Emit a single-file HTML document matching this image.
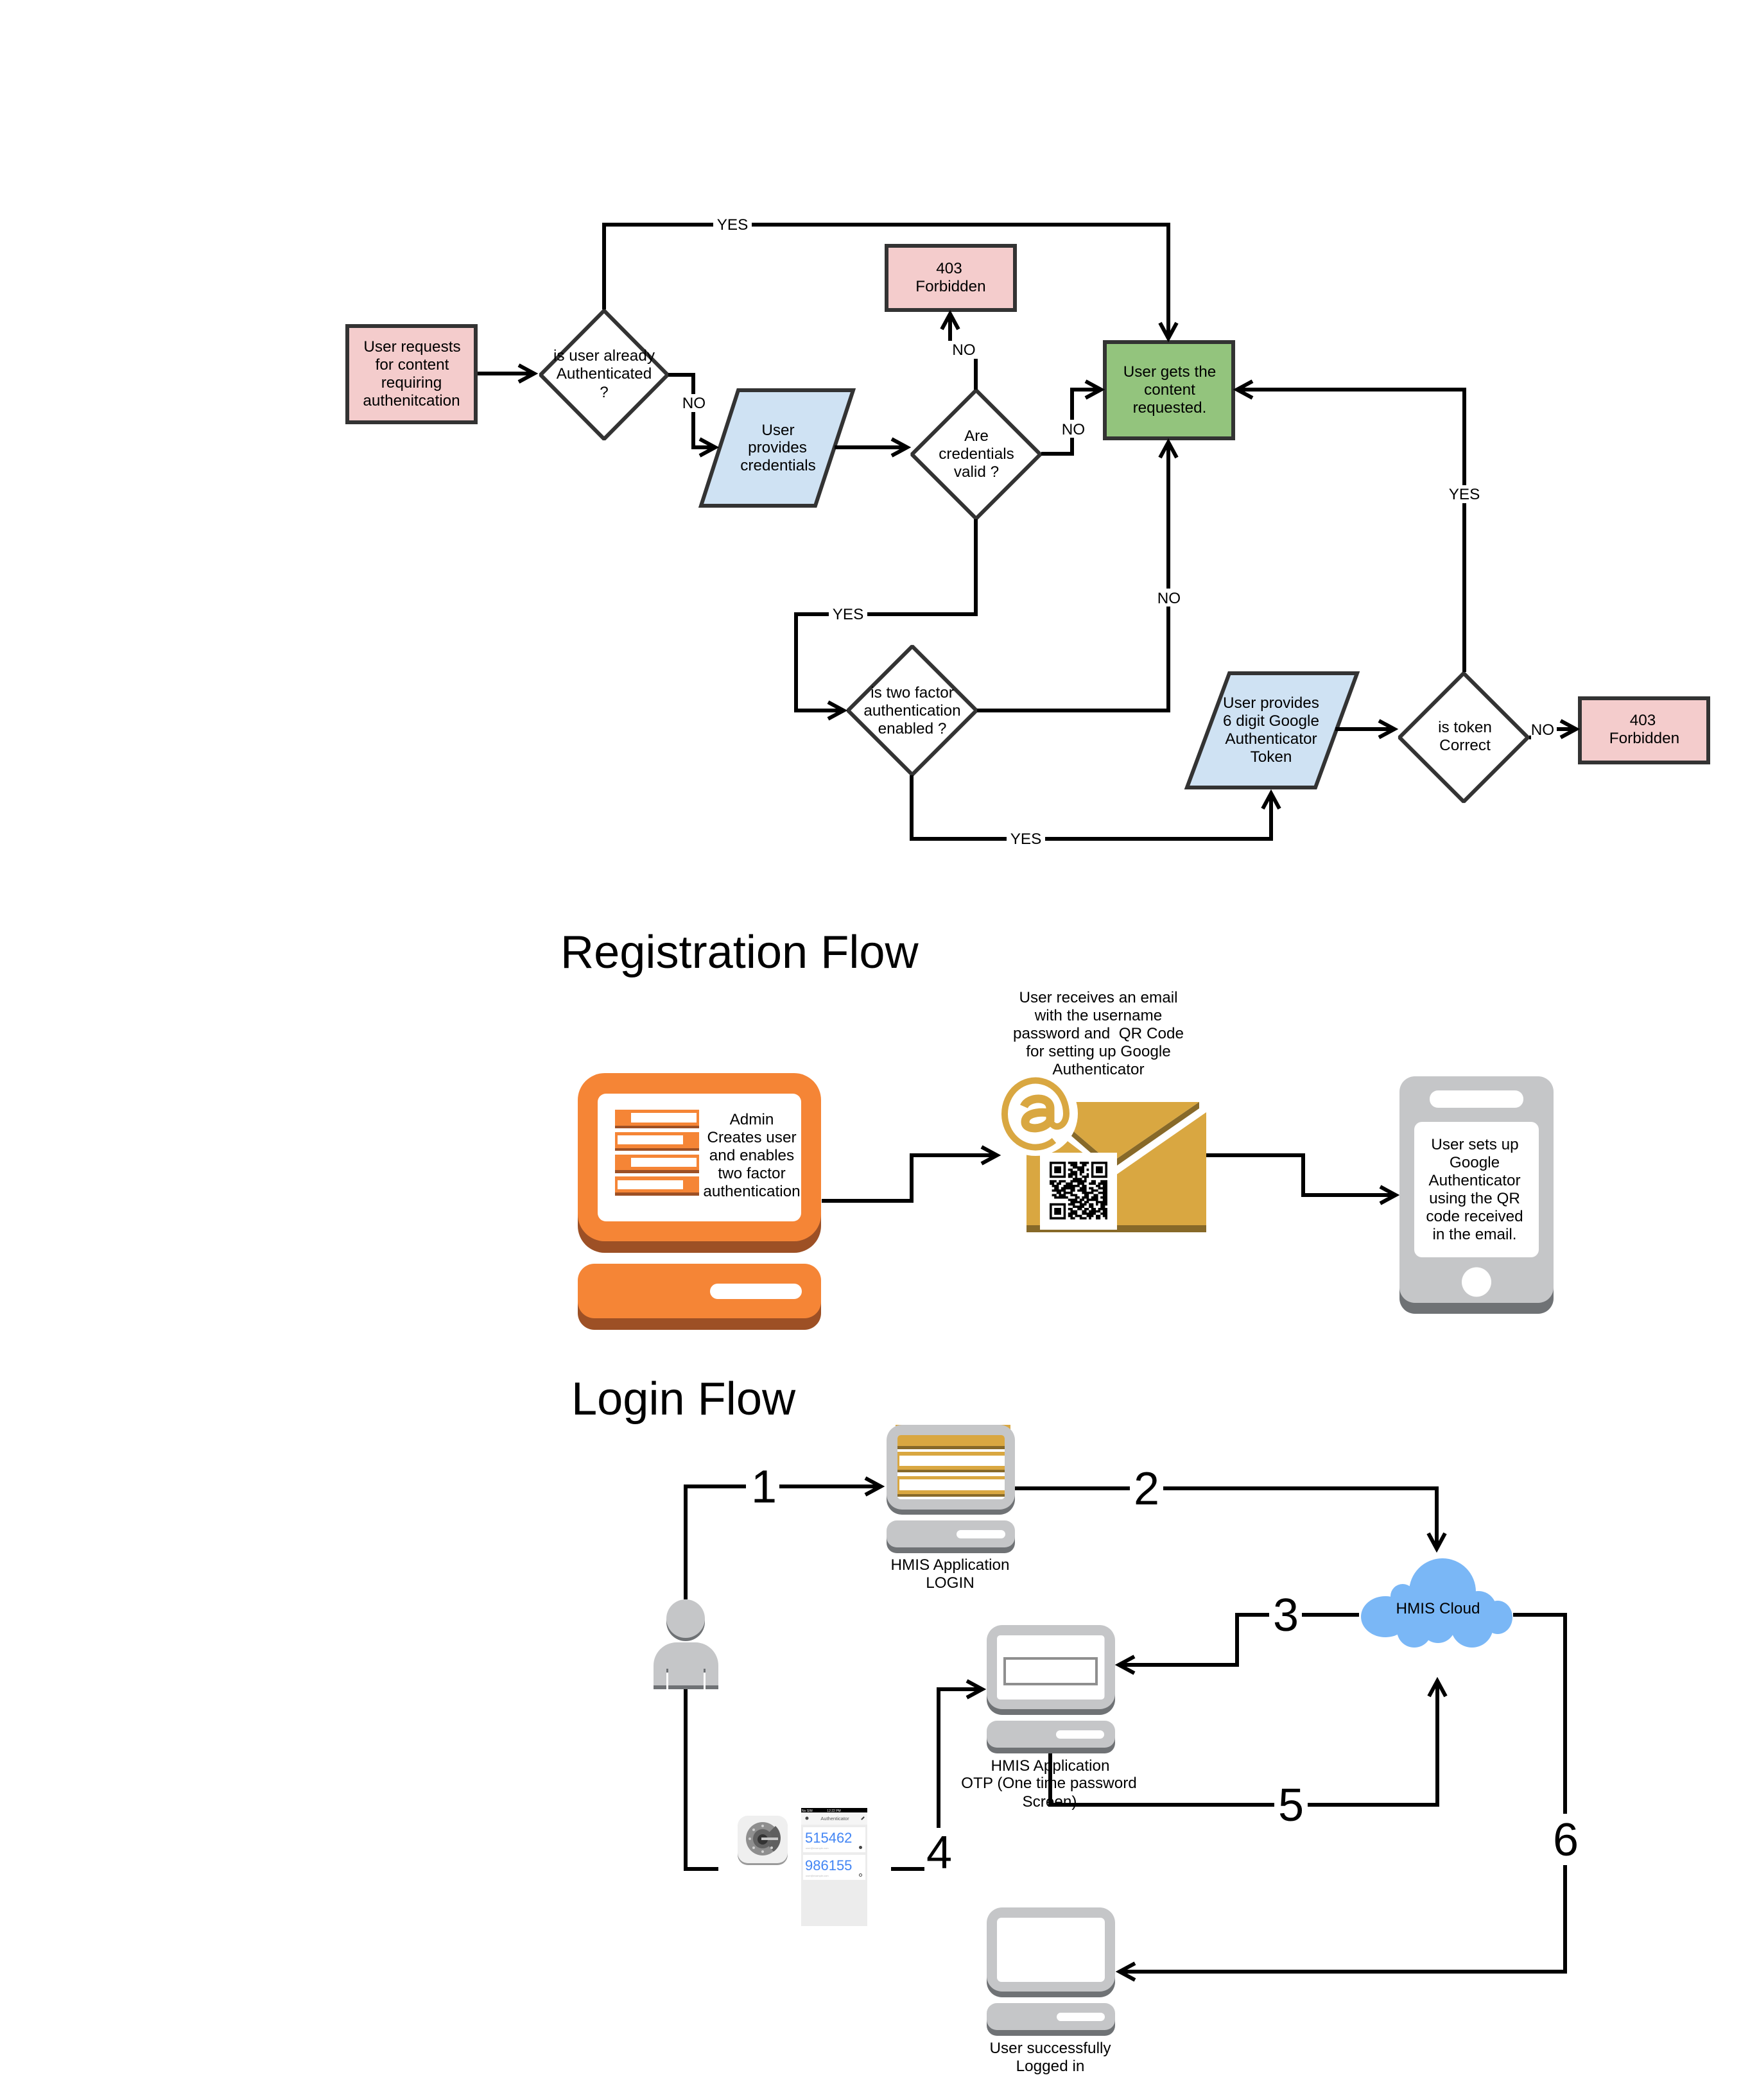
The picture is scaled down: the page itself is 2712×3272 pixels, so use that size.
<!DOCTYPE html>
<html>
<head>
<meta charset="utf-8">
<title>Authentication Flow</title>
<style>
html,body{margin:0;padding:0;background:#fff}
svg{display:block}
text{font-family:"Liberation Sans",Arial,sans-serif;fill:#000}
.t{font-size:24.3px;text-anchor:middle}
.h{font-size:72.2px}
.n{font-size:72px;text-anchor:middle}
.l{fill:none;stroke:#000;stroke-width:6;stroke-linejoin:miter}
.s{stroke:#333;stroke-width:6}
.b{stroke:#333;stroke-width:6;stroke-linejoin:bevel}
.g{fill:#c5c6c8}.d{fill:#6f7275}.w{fill:#fff}
</style>
</head>
<body>
<svg xmlns="http://www.w3.org/2000/svg" width="2712" height="3272" viewBox="0 0 2712 3272">
<defs>
<path id="a" d="M-30-13L-6 0L-30 13" fill="none" stroke="#000" stroke-width="6"/>
</defs>
<rect width="2712" height="3272" fill="#fff"/>

<!-- Top flowchart shapes -->
<rect class="s" x="541" y="508" width="200" height="150" fill="#f4cccc"/>
<polygon class="b" points="941,484 1040,584 941,684 842,584" fill="#fff"/>
<polygon class="s" points="1150,608 1329,608 1270,788 1092,788" fill="#cfe2f3"/>
<rect class="s" x="1381" y="383" width="200" height="100" fill="#f4cccc"/>
<polygon class="b" points="1520.500,608 1620.500,708 1520.500,808 1420.500,708" fill="#fff"/>
<rect class="s" x="1721" y="533" width="200" height="150" fill="#93c47d"/>
<polygon class="b" points="1421,1007 1521,1107 1421,1207 1321,1107" fill="#fff"/>
<polygon class="s" points="1915,1049 2114,1049 2049,1227 1849,1227" fill="#cfe2f3"/>
<polygon class="b" points="2280,1049 2380,1149 2280,1249 2180,1149" fill="#fff"/>
<rect class="s" x="2461" y="1088" width="200" height="100" fill="#f4cccc"/>

<!-- Top flowchart connectors -->
<path class="l" d="M744 582H832"/><use href="#a" transform="translate(838 582)"/>
<path class="l" d="M941 482V350H1820V527"/><use href="#a" transform="translate(1820 533) rotate(90)"/>
<path class="l" d="M1041 584H1080V697H1114"/><use href="#a" transform="translate(1120 697)"/>
<path class="l" d="M1300 697H1413"/><use href="#a" transform="translate(1419 697)"/>
<path class="l" d="M1520 607V544H1480V489"/><use href="#a" transform="translate(1480 483) rotate(-90)"/>
<path class="l" d="M1622 707H1670V607H1715"/><use href="#a" transform="translate(1721 607)"/>
<path class="l" d="M1520 809V957H1240V1107H1314"/><use href="#a" transform="translate(1320 1107)"/>
<path class="l" d="M1522 1107H1820V689"/><use href="#a" transform="translate(1820 683) rotate(-90)"/>
<path class="l" d="M1420 1208V1307H1980V1236"/><use href="#a" transform="translate(1980 1230) rotate(-90)"/>
<path class="l" d="M2080 1136H2172"/><use href="#a" transform="translate(2178 1136)"/>
<path class="l" d="M2281 1047V607H1927"/><use href="#a" transform="translate(1921 607) rotate(180)"/>
<path class="l" d="M2382 1149H2403V1136H2455"/><use href="#a" transform="translate(2461 1136)"/>

<!-- Connector label backgrounds -->
<g class="w">
<rect x="1111" y="336" width="60" height="28"/>
<rect x="1064" y="614" width="35" height="28"/>
<rect x="1477" y="531" width="46" height="28"/>
<rect x="1654" y="654" width="36" height="28"/>
<rect x="1291" y="943" width="60" height="28"/>
<rect x="1803" y="917" width="36" height="28"/>
<rect x="1568" y="1293" width="60" height="28"/>
<rect x="2251" y="756" width="60" height="28"/>
<rect x="2385" y="1122" width="40" height="34"/>
</g>

<!-- Top flowchart text -->
<g class="t">
<text class="t" x="642" y="548">User requests</text>
<text class="t" x="642" y="576">for content</text>
<text class="t" x="641" y="604">requiring</text>
<text class="t" x="641" y="632">authenitcation</text>
<text class="t" x="941" y="562">is user already</text>
<text class="t" x="941" y="590">Authenticated</text>
<text class="t" x="941" y="619">?</text>
<text class="t" x="1212" y="678">User</text>
<text class="t" x="1211" y="705">provides</text>
<text class="t" x="1212" y="733">credentials</text>
<text class="t" x="1478.500" y="426">403</text>
<text class="t" x="1481" y="454">Forbidden</text>
<text class="t" x="1521" y="687">Are</text>
<text class="t" x="1521" y="715">credentials</text>
<text class="t" x="1521" y="743">valid ?</text>
<text class="t" x="1822" y="587">User gets the</text>
<text class="t" x="1822" y="615">content</text>
<text class="t" x="1822" y="643">requested.</text>
<text class="t" x="1421" y="1087">is two factor</text>
<text class="t" x="1421" y="1115">authentication</text>
<text class="t" x="1421" y="1143">enabled ?</text>
<text class="t" x="1980" y="1103">User provides</text>
<text class="t" x="1980" y="1131">6 digit Google</text>
<text class="t" x="1980" y="1159">Authenticator</text>
<text class="t" x="1980" y="1187">Token</text>
<text class="t" x="2282" y="1141">is token</text>
<text class="t" x="2282" y="1169">Correct</text>
<text class="t" x="2559" y="1130">403</text>
<text class="t" x="2561.500" y="1158">Forbidden</text>
<text class="t" x="1141" y="358">YES</text>
<text class="t" x="1081" y="636">NO</text>
<text class="t" x="1501.500" y="553">NO</text>
<text class="t" x="1672" y="677">NO</text>
<text class="t" x="1321" y="965">YES</text>
<text class="t" x="1821" y="940">NO</text>
<text class="t" x="1598" y="1315">YES</text>
<text class="t" x="2281" y="778">YES</text>
<text class="t" x="2403" y="1145">NO</text>
</g>

<!-- Titles -->
<text class="h" x="873" y="1508">Registration Flow</text>
<text class="h" x="890" y="2204">Login Flow</text>

<!-- Registration flow connectors -->
<path class="l" d="M1280 1871H1420V1800H1553"/><use href="#a" transform="translate(1559 1800)"/>
<path class="l" d="M1879 1800H2030V1862H2174"/><use href="#a" transform="translate(2180 1862)"/>

<!-- Orange computer -->
<rect x="900" y="1692" width="379" height="260" rx="42" fill="#9d5025"/>
<rect x="900" y="1672" width="379" height="262" rx="42" fill="#f58536"/>
<rect x="931" y="1704" width="317" height="199" rx="13" fill="#fff"/>
<rect x="900" y="1985" width="379" height="87" rx="26" fill="#9d5025"/>
<rect x="900" y="1969" width="379" height="85" rx="26" fill="#f58536"/>
<rect x="1106" y="2000" width="143" height="24" rx="12" fill="#fff"/>
<g>
<rect x="958" y="1729" width="131" height="29" fill="#f58536"/><rect x="958" y="1754" width="131" height="4" fill="#9d5025"/><rect x="983" y="1734" width="102" height="15" fill="#fff"/>
<rect x="958" y="1764" width="131" height="29" fill="#f58536"/><rect x="958" y="1789" width="131" height="4" fill="#9d5025"/><rect x="962" y="1769" width="102" height="14" fill="#fff"/>
<rect x="958" y="1799" width="131" height="29" fill="#f58536"/><rect x="958" y="1823" width="131" height="5" fill="#9d5025"/><rect x="983" y="1804" width="102" height="14" fill="#fff"/>
<rect x="958" y="1833" width="131" height="30" fill="#f58536"/><rect x="958" y="1858" width="131" height="5" fill="#9d5025"/><rect x="962" y="1839" width="102" height="14" fill="#fff"/>
</g>
<text class="t" x="1171" y="1752">Admin</text>
<text class="t" x="1171" y="1780">Creates user</text>
<text class="t" x="1171" y="1808">and enables</text>
<text class="t" x="1171" y="1836">two factor</text>
<text class="t" x="1171" y="1864">authentication</text>

<!-- Email -->
<text class="t" x="1711" y="1562">User receives an email</text>
<text class="t" x="1711" y="1590">with the username</text>
<text class="t" x="1711" y="1618">password and&#160; QR Code</text>
<text class="t" x="1711" y="1646">for setting up Google</text>
<text class="t" x="1711" y="1674">Authenticator</text>
<polygon points="1669,1760 1669,1770 1730,1823 1868,1727 1868,1717 1730,1812" fill="#876929"/>
<polygon points="1669,1717 1868,1717 1730,1812 1669,1760" fill="#d9a741"/>
<polygon points="1599,1909 1599,1790 1663,1778 1735,1833 1879,1733 1879,1909" fill="#d9a741"/>
<rect x="1599" y="1909" width="280" height="11" fill="#876929"/>
<circle cx="1613" cy="1735" r="66" fill="#fff"/>
<g fill="none" stroke="#d9a741">
<path stroke-width="10" d="M1642 1777A48 52 0 1 1 1661 1735C1661 1757 1640 1762 1636 1745"/>
<path stroke-width="13" d="M1636 1747V1727C1636 1707 1602 1708 1595 1724"/>
<path stroke-width="13" d="M1636 1734C1612 1731 1597 1737 1597 1748C1597 1763 1630 1760 1636 1745"/>
</g>
<rect x="1620" y="1796" width="120" height="120" fill="#fff"/>
<g transform="translate(1635 1810) scale(3.6)">
<path fill-rule="evenodd" d="M0 0h7v7h-7zM1 1v5h5v-5zM2 2h3v3h-3zM18 0h7v7h-7zM19 1v5h5v-5zM20 2h3v3h-3zM0 18h7v7h-7zM1 19v5h5v-5zM2 20h3v3h-3z"/>
<path fill="none" stroke="#000" stroke-width="1" d="M8 .5h4M13 .5h4M9 1.500h3M14 1.500h2M10 2.500h5M8 3.500h2M12 3.500h3M16 3.500h1M9 4.500h3M13 4.500h2M8 5.500h4M13 5.500h1M16 5.500h1M8 6.500h2M11 6.500h1M14 6.500h3M10 7.500h4M15 7.500h1M0 8.500h3M4 8.500h3M9 8.500h7M18 8.500h2M22 8.500h3M0 9.500h2M3 9.500h2M7 9.500h3M12 9.500h3M17 9.500h3M21 9.500h4M1 10.500h3M6 10.500h4M10 10.500h3M14 10.500h2M20 10.500h2M23 10.500h2M2 11.500h2M5 11.500h6M13 11.500h3M17 11.500h2M21 11.500h4M1 12.500h6M9 12.500h2M12 12.500h4M18 12.500h3M23 12.500h2M3 13.500h2M6 13.500h4M14 13.500h5M21 13.500h4M1 14.500h2M4 14.500h3M9 14.500h3M15 14.500h2M19 14.500h2M23 14.500h2M2 15.500h6M11 15.500h2M14 15.500h3M18 15.500h3M22 15.500h3M8 16.500h4M13 16.500h2M16 16.500h5M23 16.500h2M9 17.500h5M15 17.500h2M20 17.500h5M8 18.500h3M13 18.500h3M17 18.500h2M20 18.500h1M22 18.500h3M10 19.500h5M17 19.500h2M22 19.500h2M8 20.500h2M12 20.500h2M15 20.500h2M18 20.500h2M21 20.500h4M9 21.500h3M14 21.500h2M17 21.500h5M23 21.500h2M8 22.500h4M14 22.500h6M22 22.500h3M8 23.500h2M11 23.500h3M16 23.500h3M20 23.500h2M23 23.500h2M9 24.500h2M13 24.500h3M17 24.500h1M20 24.500h2M24 24.500h1"/>
</g>

<!-- Phone -->
<rect x="2180" y="1700" width="240" height="347" rx="24" class="d"/>
<rect x="2180" y="1677" width="240" height="353" rx="24" class="g"/>
<rect x="2227" y="1699" width="146" height="27" rx="13" fill="#fff"/>
<rect x="2203" y="1748" width="194" height="211" rx="12" fill="#fff"/>
<circle cx="2300" cy="1997.500" r="23" fill="#fff"/>
<text class="t" x="2297.500" y="1791">User sets up</text>
<text class="t" x="2297" y="1819">Google</text>
<text class="t" x="2297" y="1847">Authenticator</text>
<text class="t" x="2297" y="1875">using the QR</text>
<text class="t" x="2297" y="1903">code received</text>
<text class="t" x="2297" y="1931">in the email.</text>

<!-- Login: monitor 1 -->
<rect x="1395" y="2220" width="179" height="20" fill="#d9a741"/>
<rect x="1381" y="2240" width="200" height="120" rx="24" class="d"/>
<rect x="1381" y="2220" width="200" height="132" rx="24" class="g"/>
<rect x="1398" y="2236" width="167" height="100" rx="5" fill="#fff"/>
<g>
<path d="M1398 2253v-12a5 5 0 0 1 5-5h157a5 5 0 0 1 5 5v12z" fill="#d9a741"/>
<rect x="1398" y="2253" width="167" height="5" fill="#876929"/>
<rect x="1398" y="2262" width="167" height="6" fill="#d9a741"/>
<rect x="1398" y="2268" width="3" height="16" fill="#d9a741"/>
<rect x="1398" y="2284" width="167" height="6" fill="#d9a741"/>
<rect x="1398" y="2290" width="167" height="4" fill="#876929"/>
<rect x="1398" y="2300" width="167" height="5" fill="#d9a741"/>
<rect x="1398" y="2305" width="3" height="17" fill="#d9a741"/>
<rect x="1398" y="2322" width="167" height="6" fill="#d9a741"/>
<rect x="1398" y="2328" width="167" height="4" fill="#876929"/>
</g>
<rect x="1381" y="2380" width="200" height="40" rx="16" class="d"/>
<rect x="1381" y="2369" width="200" height="42" rx="16" class="g"/>
<rect x="1490" y="2384" width="76" height="13" rx="6.500" fill="#fff"/>
<text class="t" x="1480" y="2446">HMIS Application</text>
<text class="t" x="1480" y="2474">LOGIN</text>

<!-- Person -->
<ellipse cx="1068" cy="2527" rx="30" ry="30" class="d"/>
<ellipse cx="1068" cy="2522" rx="30" ry="30" class="g"/>
<path d="M1018 2632V2595a36 36 0 0 1 36-36h29a36 36 0 0 1 36 36V2632z" class="g"/>
<rect x="1018" y="2626" width="101" height="6" class="d"/>
<rect x="1038" y="2600" width="3" height="6" class="d"/><rect x="1096" y="2600" width="3" height="6" class="d"/>
<rect x="1038" y="2606" width="3" height="26" fill="#fff"/><rect x="1096" y="2606" width="3" height="26" fill="#fff"/>

<!-- Monitor 2 -->
<rect x="1537" y="2552" width="200" height="120" rx="24" class="d"/>
<rect x="1537" y="2532" width="200" height="131" rx="24" class="g"/>
<rect x="1553" y="2548" width="167.500" height="100" rx="5" fill="#fff"/>
<rect x="1565" y="2584" width="143" height="40" fill="#fff" stroke="#8f8f8f" stroke-width="4"/>
<rect x="1537" y="2692" width="200" height="40" rx="16" class="d"/>
<rect x="1537" y="2681" width="200" height="42" rx="16" class="g"/>
<rect x="1645" y="2696" width="75" height="13" rx="6.500" fill="#fff"/>
<text class="t" x="1636" y="2759">HMIS Application</text>
<text class="t" x="1634" y="2786">OTP (One time password</text>
<text class="t" x="1635" y="2815">Screen)</text>

<!-- Monitor 3 -->
<rect x="1537" y="2992" width="200" height="120" rx="24" class="d"/>
<rect x="1537" y="2972" width="200" height="131" rx="24" class="g"/>
<rect x="1553" y="2988" width="168" height="100" rx="7" fill="#fff"/>
<rect x="1537" y="3132" width="200" height="40" rx="16" class="d"/>
<rect x="1537" y="3121" width="200" height="42" rx="16" class="g"/>
<rect x="1646" y="3136" width="75" height="13" rx="6.500" fill="#fff"/>
<text class="t" x="1636" y="3199">User successfully</text>
<text class="t" x="1636" y="3227">Logged in</text>

<!-- Login connectors -->
<path class="l" d="M1068 2492V2316H1372"/><use href="#a" transform="translate(1378 2316)"/>
<path class="l" d="M1581 2319H2238V2413"/><use href="#a" transform="translate(2238 2419) rotate(90)"/>
<path class="l" d="M2117 2516H1927V2594H1743"/><use href="#a" transform="translate(1737 2594) rotate(180)"/>
<path class="l" d="M1068 2632V2912H1119"/>
<path class="l" d="M1388 2912H1462V2632H1530"/><use href="#a" transform="translate(1536 2632)"/>
<path class="l" d="M1636 2732V2812H2239V2619"/><use href="#a" transform="translate(2239 2613) rotate(-90)"/>
<path class="l" d="M2357 2516H2438V3072H1744"/><use href="#a" transform="translate(1738 3072) rotate(180)"/>

<!-- Cloud -->
<g fill="#7ab7f6">
<circle cx="2247" cy="2480" r="52"/>
<circle cx="2185" cy="2487" r="19"/>
<rect x="2185" y="2480" width="60" height="40"/>
<ellipse cx="2158" cy="2519" rx="38" ry="32"/>
<circle cx="2203" cy="2540" r="27"/>
<circle cx="2240" cy="2533" r="27"/>
<circle cx="2293" cy="2534" r="33"/>
<circle cx="2303" cy="2507" r="28"/>
<ellipse cx="2333" cy="2520" rx="23" ry="26"/>
</g>
<text class="t" x="2240" y="2514">HMIS Cloud</text>

<!-- Number labels -->
<g class="w">
<rect x="1162" y="2280" width="52" height="70"/>
<rect x="1760" y="2285" width="52" height="70"/>
<rect x="1977" y="2480" width="51" height="70"/>
<rect x="1440" y="2848" width="46" height="82"/>
<rect x="1985" y="2776" width="52" height="70"/>
<rect x="2413" y="2826" width="52" height="80"/>
</g>
<text class="n" x="1190" y="2341">1</text>
<text class="n" x="1786" y="2344">2</text>
<text class="n" x="2003" y="2541">3</text>
<text class="n" x="1463" y="2911">4</text>
<text class="n" x="2011" y="2837">5</text>
<text class="n" x="2439" y="2891">6</text>

<!-- Google Authenticator icon -->
<rect x="1149" y="2831" width="78" height="75" rx="16" fill="#999"/>
<rect x="1149" y="2829" width="78" height="74" rx="16" fill="#efefef"/>
<circle cx="1188" cy="2865" r="26" fill="#8e8e8e"/>
<path d="M1188 2865L1208 2845A26 26 0 0 1 1205 2885z" fill="#5f5f5f"/>
<circle cx="1188" cy="2865" r="15" fill="#626262"/>
<circle cx="1188" cy="2866" r="8" fill="#333"/>
<rect x="1186" y="2863" width="26" height="4" fill="#c8c8c8"/>
<g fill="#d0d0d0"><circle cx="1188" cy="2845" r="2"/><circle cx="1168" cy="2865" r="2"/><circle cx="1174" cy="2851" r="2"/><circle cx="1174" cy="2879" r="2"/><circle cx="1188" cy="2885" r="2"/><circle cx="1202" cy="2879" r="2"/></g>

<!-- Authenticator screenshot -->
<rect x="1248" y="2817" width="103" height="184" fill="#ececec"/>
<rect x="1248" y="2824" width="103" height="19" fill="#f5f5f5"/>
<rect x="1248" y="2817" width="103" height="7" fill="#000"/>
<text x="1249" y="2823" font-size="5" style="fill:#fff">No SIM</text>
<text x="1299" y="2823" font-size="5" text-anchor="middle" style="fill:#fff">12:22 PM</text>
<text x="1300.500" y="2836" font-size="7.500" text-anchor="middle" style="fill:#555">Authenticator</text>
<circle cx="1257" cy="2833" r="2.500" fill="#444"/>
<rect x="1341" y="2832" width="6" height="2" fill="#444" transform="rotate(-45 1344 2833)"/>
<rect x="1251" y="2847" width="97" height="39" fill="#fff"/>
<rect x="1251" y="2890" width="97" height="39" fill="#fff"/>
<text x="1254" y="2871" font-size="22" style="fill:#4285f4">515462</text>
<text x="1254" y="2914" font-size="22" style="fill:#4285f4">986155</text>
<text x="1255" y="2881" font-size="4" style="fill:#bbb">user@example.com</text>
<text x="1255" y="2924" font-size="4" style="fill:#bbb">user@example.com</text>
<circle cx="1340.500" cy="2878.500" r="2.500" fill="#444"/>
<circle cx="1340.500" cy="2921.500" r="2" fill="none" stroke="#444" stroke-width="1"/>
</svg>
</body>
</html>
